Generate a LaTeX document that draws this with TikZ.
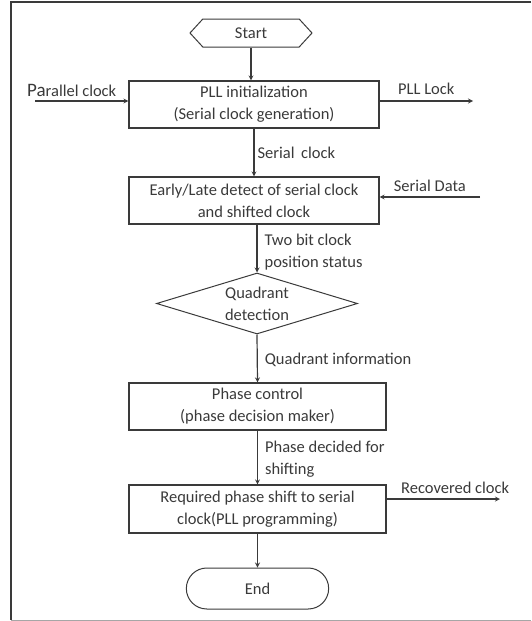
\documentclass[tikz,border=0pt]{standalone}
\usepackage{fontspec}
\setmainfont{Carlito}
\usetikzlibrary{shapes.geometric, shapes.symbols, shapes.misc, arrows}
\definecolor{inkgray}{HTML}{3A3A3A}
\tikzstyle{startstop} = [signal, signal to=east and west, signal pointer angle=95, minimum width=122pt, minimum height=28pt, inner sep=0pt, draw=inkgray, line width=1pt]
\tikzstyle{endstop} = [rounded rectangle, minimum width=149pt, minimum height=41pt, draw=inkgray, line width=1pt]
\tikzstyle{process} = [rectangle, minimum height=47pt, inner sep=2pt, text centered, align=center, draw=inkgray, line width=1.2pt]
\tikzstyle{decision} = [diamond, minimum width=201pt, minimum height=61pt, inner sep=0pt, draw=inkgray, line width=1pt]
\tikzstyle{arrow} = [line width=1.2pt, draw=inkgray, ->, >=stealth]
\tikzstyle{sidelabel} = [text=inkgray, inner sep=1pt, align=left]

\begin{document}
\begin{tikzpicture}[x=1pt, y=-1pt, font=\fontsize{16.5}{22}\selectfont, text=inkgray]
        \useasboundingbox (0,0) rectangle (531,621);
        % frame
        \draw[line width=1.2pt, inkgray] (531,2) -- (11,2) -- (11,620);
        \draw[line width=1pt, gray!70] (11,620) -- (531,620);

        \node (start) [startstop] at (251,33) {Start};
        \node (pll) [process, minimum width=250pt] at (254,104.5) {PLL initialization\\(Serial clock generation)};
        \node (earlylate) [process, minimum width=250pt] at (254,200.5) {Early/Late detect of serial clock\\and shifted clock};
        \node (quadrant) [decision] at (257,303.5) {};
        \node (quadtext) [align=center, inner sep=0pt] at (quadrant) {Quadrant\\detection};
        \node (phasectrl) [process, minimum width=257pt] at (257.5,406.5) {Phase control\\(phase decision maker)};
        \node (phaseshift) [process, minimum width=257pt, minimum height=48pt] at (257.5,509) {Required phase shift to serial\\clock(PLL programming)};
        \node (stop) [endstop] at (257.5,588.5) {End};

        \coordinate (parin) at (35,101);
        \coordinate (lockout) at (473,101);
        \coordinate (datain) at (480,197);
        \coordinate (recout) at (500,499);

        \draw [arrow] (start.south) -- (start.south |- pll.north);
        \draw [arrow] (parin) -- node[sidelabel, anchor=south, xshift=-10pt, yshift=3pt] {{\fontsize{19}{22}\selectfont Pa}rallel clock} (parin -| pll.west);
        \draw [arrow] (lockout -| pll.east) -- node[sidelabel, anchor=south, yshift=5pt] {PLL Lock} (lockout);
        \draw [arrow] (pll.south) -- node[sidelabel, anchor=west, xshift=2pt] {Serial\, clock} (earlylate.north);
        \draw [arrow] (datain) -- node[sidelabel, anchor=south, yshift=4pt] {Serial Data} (datain -| earlylate.east);
        \draw [arrow] (quadrant.north |- earlylate.south) -- node[sidelabel, anchor=west, xshift=6pt, yshift=-4pt] {Two bit clock\\position status} (quadrant.north);
        \draw [arrow] (quadrant.south) -- node[sidelabel, anchor=west, xshift=6pt, yshift=-1pt] {Quadrant information} (phasectrl.north);
        \draw [arrow] (phasectrl.south) -- node[sidelabel, anchor=west, xshift=6pt, yshift=-2pt] {Phase decided for\\shifting} (phaseshift.north);
        \draw [arrow] (recout -| phaseshift.east) -- node[sidelabel, pos=0, anchor=south west, xshift=13pt, yshift=4pt] {Recovered clock} (recout);
        \draw [arrow] (phaseshift.south) -- (stop.north);

\end{tikzpicture}
\end{document}
